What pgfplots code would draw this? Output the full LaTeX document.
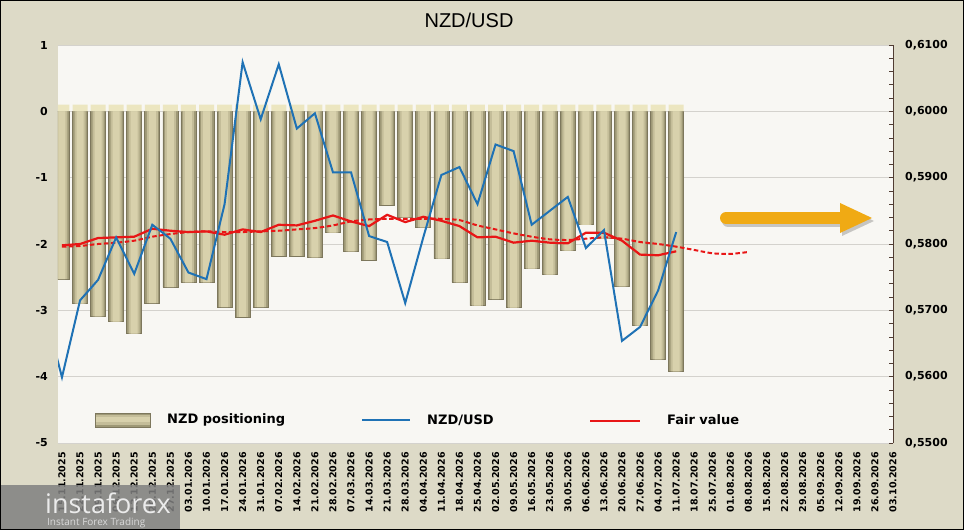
\documentclass[border=0pt]{standalone}
\usepackage{pgfplots}
\usepackage{pgfplotstable}
\pgfplotsset{compat=1.18}
\usepackage{fontspec}
\setmainfont{DejaVu Sans}
\newfontfamily\titlefont{Liberation Sans}
\newfontfamily\logofont{Open Sans}
\definecolor{outerbg}{RGB}{221,218,199}
\definecolor{plotbg}{RGB}{248,247,243}
\definecolor{gridc}{RGB}{212,210,205}
\definecolor{barface}{RGB}{216,209,172}
\definecolor{barmid}{RGB}{196,189,153}
\definecolor{baredge}{RGB}{158,152,118}
\definecolor{barline}{RGB}{125,119,92}
\definecolor{barcap}{RGB}{236,230,192}
\definecolor{nzdblue}{RGB}{31,114,181}
\definecolor{fairred}{RGB}{232,22,22}
\definecolor{arroworange}{RGB}{240,170,20}
\definecolor{axisc}{RGB}{80,60,50}

\pgfplotstableread{
idx pos cap
0 -2.53 0.1
1 -2.90 0.1
2 -3.09 0.1
3 -3.17 0.1
4 -3.35 0.1
5 -2.89 0.1
6 -2.65 0.1
7 -2.58 0.1
8 -2.58 0.1
9 -2.95 0.1
10 -3.10 0.1
11 -2.95 0.1
12 -2.18 0.1
13 -2.18 0.1
14 -2.20 0.1
15 -1.83 0.1
16 -2.11 0.1
17 -2.24 0.1
18 -1.41 0.1
19 -1.60 0.1
20 -1.75 0.1
21 -2.22 0.1
22 -2.58 0.1
23 -2.93 0.1
24 -2.83 0.1
25 -2.96 0.1
26 -2.37 0.1
27 -2.46 0.1
28 -2.10 0.1
29 -1.71 0.1
30 -1.92 0.1
31 -2.64 0.1
32 -3.23 0.1
33 -3.74 0.1
34 -3.92 0.1
}\posdata

\pgfplotstableread{
idx price
-1 0.5705
0 0.5599
1 0.5715
2 0.5746
3 0.5810
4 0.5755
5 0.5829
6 0.5808
7 0.5757
8 0.5747
9 0.5860
10 0.6074
11 0.5988
12 0.6071
13 0.5974
14 0.5997
15 0.5908
16 0.5908
17 0.5812
18 0.5803
19 0.5711
20 0.5810
21 0.5904
22 0.5916
23 0.5860
24 0.5950
25 0.5940
26 0.5829
27 0.5850
28 0.5871
29 0.5794
30 0.5821
31 0.5654
32 0.5675
33 0.5730
34 0.5818
}\pricedata

\pgfplotstableread{
idx fair
0 0.5798
1 0.5800
2 0.5809
3 0.5810
4 0.5811
5 0.5823
6 0.5820
7 0.5818
8 0.5819
9 0.5814
10 0.5822
11 0.5818
12 0.5829
13 0.5828
14 0.5835
15 0.5843
16 0.5834
17 0.5827
18 0.5844
19 0.5833
20 0.5841
21 0.5835
22 0.5827
23 0.5810
24 0.5811
25 0.5802
26 0.5805
27 0.5802
28 0.5801
29 0.5817
30 0.5817
31 0.5805
32 0.5784
33 0.5783
34 0.5789
}\fairdata

\pgfplotstableread{
idx trend
0 0.5796
1 0.5797
2 0.5800
3 0.5802
4 0.5805
5 0.5811
6 0.5815
7 0.5818
8 0.5819
9 0.5818
10 0.5818
11 0.5819
12 0.5820
13 0.5822
14 0.5824
15 0.5828
16 0.5834
17 0.5837
18 0.5838
19 0.5838
20 0.5838
21 0.5838
22 0.5836
23 0.5828
24 0.5822
25 0.5816
26 0.5811
27 0.5807
28 0.5806
29 0.5808
30 0.5810
31 0.5808
32 0.5803
33 0.5800
34 0.5796
35 0.5791
36 0.5786
37 0.5785
38 0.5788
}\trenddata

\begin{document}
\begin{tikzpicture}[x=1pt,y=1pt]
\fill[outerbg] (0,0) rectangle (964,530);

\begin{axis}[
  at={(58pt,87pt)}, anchor=south west, scale only axis,
  width=835pt, height=398pt,
  xmin=-0.22, xmax=46, ymin=-5, ymax=1,
  axis background/.style={fill=plotbg},
  axis line style={draw=none},
  ytick={-5,-4,-3,-2,-1,0,1},
  yticklabels={-5,-4,-3,-2,-1,0,1},
  ymajorgrids, grid style={gridc, line width=0.7pt},
  xtick={0,1,...,46},
  xticklabels={15.11.2025,22.11.2025,29.11.2025,06.12.2025,13.12.2025,20.12.2025,27.12.2025,03.01.2026,10.01.2026,17.01.2026,24.01.2026,31.01.2026,07.02.2026,14.02.2026,21.02.2026,28.02.2026,07.03.2026,14.03.2026,21.03.2026,28.03.2026,04.04.2026,11.04.2026,18.04.2026,25.04.2026,02.05.2026,09.05.2026,16.05.2026,23.05.2026,30.05.2026,06.06.2026,13.06.2026,20.06.2026,27.06.2026,04.07.2026,11.07.2026,18.07.2026,25.07.2026,01.08.2026,08.08.2026,15.08.2026,22.08.2026,29.08.2026,05.09.2026,12.09.2026,19.09.2026,26.09.2026,03.10.2026},
  major tick length=0pt,
  yticklabel style={font=\bfseries\fontsize{11}{12}\selectfont, inner sep=0pt, anchor=east},
  yticklabel shift=10pt,
  xticklabel style={font=\bfseries\fontsize{9.5}{10}\selectfont, rotate=90, anchor=east, inner sep=0pt},
  xticklabel shift=9pt,
]
\addplot[ybar, bar width=15pt, bar shift=0pt, draw=barline, line width=0.7pt, fill=baredge]
  table[x=idx,y=pos]{\posdata};
\addplot[ybar, bar width=11pt, bar shift=0pt, draw=none, fill=barmid]
  table[x=idx,y=pos]{\posdata};
\addplot[ybar, bar width=7pt, bar shift=0pt, draw=none, fill=barface]
  table[x=idx,y=pos]{\posdata};
\addplot[ybar, bar width=15pt, bar shift=0pt, draw=none, fill=barcap]
  table[x=idx,y=cap]{\posdata};
\end{axis}

\begin{axis}[
  at={(58pt,87pt)}, anchor=south west, scale only axis,
  width=835pt, height=398pt,
  xmin=-0.22, xmax=46, ymin=0.55, ymax=0.61,
  axis x line=none,
  axis y line*=right,
  y axis line style={draw=axisc, line width=0.8pt},
  ytick={0.55,0.56,0.57,0.58,0.59,0.60,0.61},
  yticklabels={{0,5500},{0,5600},{0,5700},{0,5800},{0,5900},{0,6000},{0,6100}},
  minor y tick num=4,
  tick align=inside, major tick length=4pt, minor tick length=4pt,
  every tick/.style={axisc, line width=0.6pt},
  yticklabel style={font=\bfseries\fontsize{11}{12}\selectfont, inner sep=0pt, anchor=west},
  yticklabel shift=12pt,
]
\addplot[fairred, line width=2pt, dash pattern=on 4.5pt off 2.5pt, smooth, tension=0.4]
  table[x=idx,y=trend]{\trenddata};
\addplot[fairred, line width=2.2pt] table[x=idx,y=fair]{\fairdata};
\addplot[nzdblue, line width=2pt] table[x=idx,y=price]{\pricedata};
\end{axis}

% title
\node[font=\titlefont\fontsize{20}{22}\selectfont] at (469,510) {NZD/USD};

% legend
\fill[baredge] (95,103) rectangle (150,117);
\fill[barmid] (95,105) rectangle (150,115);
\fill[barface] (95,107.5) rectangle (150,112.5);
\draw[barline, line width=0.7pt] (95,103) rectangle (150,117);
\node[anchor=west, font=\bfseries\fontsize{13}{15}\selectfont, inner sep=0pt] at (167,110) {NZD positioning};
\draw[nzdblue, line width=2pt] (362,110) -- (410,110);
\node[anchor=west, font=\bfseries\fontsize{13}{15}\selectfont, inner sep=0pt] at (427,110) {NZD/USD};
\draw[fairred, line width=2.2pt] (590,109) -- (640,109);
\node[anchor=west, font=\bfseries\fontsize{13}{15}\selectfont, inner sep=0pt] at (667,110) {Fair value};

% arrow
\begin{scope}[shift={(2,-3)}]
\draw[black, opacity=0.2, line width=12pt, line cap=round] (726,312) -- (842,312);
\fill[black, opacity=0.2] (840,327) -- (872,312) -- (840,297) -- cycle;
\end{scope}
\draw[arroworange, line width=12pt, line cap=round] (726,312) -- (842,312);
\fill[arroworange] (840,327) -- (872,312) -- (840,297) -- cycle;

% logo
\fill[black!50, opacity=0.85] (0,0) rectangle (180,45);
\node[anchor=base west, font=\logofont\fontsize{27}{30}\selectfont, text=white!92!black, inner sep=0pt] at (45,16) {instaforex};
\node[anchor=base west, font=\logofont\fontsize{10}{12}\selectfont, text=white!85!black, inner sep=0pt] at (47,4) {Instant Forex Trading};

\draw[black, line width=1pt] (0.5,0.5) rectangle (963.5,529.5);
\pgfresetboundingbox
\useasboundingbox (0,0) rectangle (964,530);
\end{tikzpicture}
\end{document}
